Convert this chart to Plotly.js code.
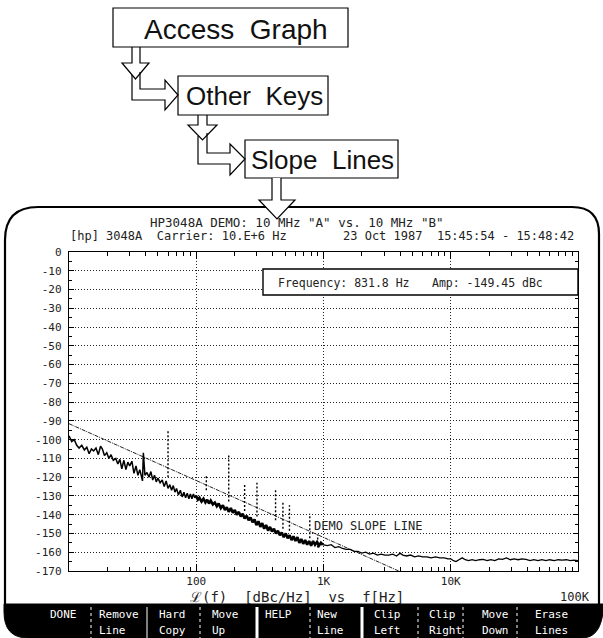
<!DOCTYPE html>
<html><head><meta charset="utf-8">
<script src="https://cdn.plot.ly/plotly-3.0.1.min.js"></script>
<style>html,body{margin:0;padding:0;background:#fff;}#chart{width:603px;height:638px;}</style>
</head><body><div id="chart"></div>
<script>
// ---------- data ----------
const lowBandHz = [10,10.5,11,11.5,12,12.6,13.2,13.8,14.4,15,15.6,16.3,17,17.7,18.3,19,19.8,20.6,21.4,22.3,23.3,24.2,25.1,26,27,28,29,30,31.2,32.4,33.6,34.8,36,37.2,37.8,38.4,39.5,41,42.5,44,45.5,47,48.5,50,52,54,56,58,60,62,64,66,68,70,72.5,75,77.5,80,82.5,85,87.5,90,92.5,95,97.5,100];
const lowBandDb = [-98,-101,-100,-103,-104.5,-103,-105.5,-104,-107.5,-105,-106,-104.5,-108,-103.5,-105,-108.5,-107,-110,-108,-111,-110,-113,-110.5,-115.5,-111,-116,-112,-114,-111.5,-118,-114,-119,-116,-121,-122,-107,-119,-117.5,-120,-117,-121.5,-119,-122.5,-120.5,-123,-121.5,-125,-122,-126,-124,-127,-124.5,-128,-126,-129.5,-127,-130.5,-128,-131,-128.5,-131.5,-129,-131.5,-129,-131,-130];
const midBandHz = [100,103,106,110,114,118,122,126,130,135,140,145,150,156,162,168,174,180,187,194,201,208,216,224,232,240,249,258,267,277,287,297,308,319,330,342,354,367,380,394,408,423,438,454,470,487,505,523,542,561,581,602,624,646,669,693,718,744,771,799,828,858,889,921,954,988];
const midBandDb = [-130,-132,-131,-133,-131.5,-133.5,-132,-134,-132.5,-134.5,-133.5,-135.5,-134,-136.5,-135,-137.5,-136,-138.5,-136.5,-139,-137.5,-140,-138.5,-141,-139.5,-142,-140.5,-143,-141.5,-144,-142.5,-145.5,-143.5,-146.5,-144.5,-147.5,-145.5,-148.5,-146.5,-149,-147.5,-150,-148.5,-151,-149.5,-152,-150,-152.5,-151,-153.5,-151.5,-154,-152,-155,-153,-155.5,-153.5,-156,-154,-156.5,-154,-156,-154.5,-156.5,-155,-156];
const highBandHz = [988,1070,1150,1230,1320,1410,1510,1620,1740,1860,2000,2150,2300,2470,2650,2830,3040,3260,3500,3750,4000,4200,4500,4830,5200,5600,6000,6500,7000,7600,8200,8900,9500,10000,10500,11000,11600,12300,13000,13800,14700,15700,16800,18000,19300,20700,22200,23800,25500,27400,29400,31500,33800,36300,39000,42000,45000,48500,52000,56000,60000,65000,70000,75000,81000,87000,93000,100000];
const highBandDb = [-156,-156.5,-156,-157.5,-157,-158,-158.5,-158.5,-159.5,-159.5,-160.5,-160,-161,-160.5,-161.5,-161,-161.5,-161.5,-161,-162,-160.5,-161.5,-162,-161.5,-162.5,-162,-162.5,-162.5,-163,-162.5,-163,-163,-163.5,-163.5,-164.5,-165,-164,-163,-164,-164.5,-164,-164.5,-164,-163.8,-164.5,-164,-164.5,-163.5,-163.8,-163,-164,-163.5,-164,-163.5,-163.8,-164.5,-164,-164.5,-164,-164.5,-164,-164.5,-164,-164.2,-164,-164.5,-164.2,-164.5];
const slopeHz = [10, 3900];
const slopeDb = [-91.5, -170];
const spurHz = [60,120,180,240,300,420,480,540,780,900];
const spurTopDb = [-95,-119.5,-107.5,-123.5,-123,-126,-133.5,-135,-139.5,-150.5];
const spurBaseDb = [-120,-127,-133,-138,-141,-143,-147.5,-148.5,-152.5,-157.5];
const xDecades = [10,100,1000,10000,100000];
const xDecadeLabels = ['', '100', '1K', '10K', ''];
const xMinorTicks = [20,30,40,50,60,70,80,90,200,300,400,500,600,700,800,900,2000,3000,4000,5000,6000,7000,8000,9000,20000,30000,40000,50000,60000,70000,80000,90000];
const yTicks = [0,-10,-20,-30,-40,-50,-60,-70,-80,-90,-100,-110,-120,-130,-140,-150,-160,-170];
const yTickLabels = ['0','-10','-20','-30','-40','-50','-60','-70','-80','-90','-100','-110','-120','-130','-140','-150','-160','-170'];
const xEndLabels = ['10', '100K'];
const xAxisTitle = 'ℒ(f)  [dBc/Hz]  vs  f[Hz]';
const titleLine1 = 'HP3048A DEMO: 10 MHz "A" vs. 10 MHz "B"';
const titleLeft = '[hp] 3048A  Carrier: 10.E+6 Hz';
const titleRight = '23 Oct 1987  15:45:54 - 15:48:42';
const markerFreq = 'Frequency: 831.8 Hz';
const markerAmp = 'Amp: -149.45 dBc';
const slopeLabel = 'DEMO SLOPE LINE';
const menuSteps = ['Access\u00A0\u00A0Graph', 'Other\u00A0\u00A0Keys', 'Slope\u00A0\u00A0Lines'];
const softkeyTop = ['DONE','Remove','Hard','Move','HELP','New','Clip','Clip','Move','Erase'];
const softkeyBottom = ['','Line','Copy','Up','','Line','Left','Right','Down','Lines'];

// ---------- geometry helpers (pixel -> paper) ----------
const L = 69, R = 578, T = 252, B = 571;
const px = x => (x - L) / (R - L);
const py = y => (B - y) / (B - T);
function P(cmds){
  return cmds.map(c => {
    if (c[0] === 'Z') return 'Z';
    let s = c[0];
    const n = c.slice(1);
    for (let i = 0; i < n.length; i += 2) s += (i ? ' ' : '') + px(n[i]).toFixed(5) + ',' + py(n[i+1]).toFixed(5);
    return s;
  }).join(' ');
}
function pathShape(cmds, opt){
  return Object.assign({type:'path', xref:'paper', yref:'paper', path:P(cmds), line:{color:'#000', width:1.2}, layer:'above'}, opt||{});
}
function rectShape(x0,y0,x1,y1,opt){
  return Object.assign({type:'rect', xref:'paper', yref:'paper', x0:px(x0), x1:px(x1), y0:py(y1), y1:py(y0), line:{color:'#000', width:1.2}, layer:'above'}, opt||{});
}
const MONO = 'DejaVu Sans Mono, monospace';
function txt(text, x, y, opt){
  return Object.assign({text:text, xref:'paper', yref:'paper', x:px(x), y:py(y), showarrow:false, xanchor:'center', yanchor:'middle', font:{family:MONO, size:12, color:'#222'}}, opt||{});
}

// ---------- traces ----------
const spurX = [], spurY = [];
spurHz.forEach((f,i) => { spurX.push(f, f, null); spurY.push(spurBaseDb[i], spurTopDb[i], null); });

const traces = [
  {x: slopeHz, y: slopeDb, mode:'lines', line:{color:'#222', width:1, dash:'4px,1px,1px,1px'}, hoverinfo:'skip'},
  {x: spurX, y: spurY, mode:'lines', line:{color:'#000', width:1.4, dash:'2px,2px'}, connectgaps:false, hoverinfo:'skip'},
  {x: lowBandHz, y: lowBandDb, mode:'lines', line:{color:'#000', width:1.5}, hoverinfo:'skip'},
  {x: midBandHz, y: midBandDb, mode:'lines', line:{color:'#000', width:2.6}, hoverinfo:'skip'},
  {x: highBandHz, y: highBandDb, mode:'lines', line:{color:'#000', width:1.3}, hoverinfo:'skip'}
];

// ---------- shapes ----------
const shapes = [];
// flowchart boxes
shapes.push(rectShape(113,8,348,47));
shapes.push(rectShape(178,76,328,115));
shapes.push(rectShape(245,140,398,178));
// arrows
shapes.push(pathShape([['M',132,47],['L',132,63],['L',122,63],['L',135.5,79],['L',149,63],['L',140,63],['L',140,47]]));
shapes.push(pathShape([['M',132,75],['L',132,100],['L',165,100],['L',165,110],['L',178,95],['L',165,80],['L',165,89],['L',140,89],['L',140,72]]));
shapes.push(pathShape([['M',198,115],['L',198,125],['L',188,125],['L',202.5,140],['L',217,125],['L',207,125],['L',207,115]]));
shapes.push(pathShape([['M',198,136],['L',198,164],['L',230,164],['L',230,175],['L',245,159],['L',230,144],['L',230,153],['L',207,153],['L',207,133]]));
// screen frame
shapes.push(pathShape([['M',5,604],['L',5,240],['Q',5,207,38,207],['L',572,207],['Q',599,207,599,234],['L',599,604]], {line:{color:'#000', width:2.2}}));
// arrow into the screen
shapes.push(pathShape([['M',272,178],['L',272,200],['L',259,200],['L',277,219],['L',295,200],['L',281,200],['L',281,178]], {fillcolor:'#fff'}));
// softkey bar
shapes.push(pathShape([['M',4,604],['L',603,604],['L',603,612],['Q',600,638,582,638],['L',28,638],['Q',4,638,4,612],['Z']], {fillcolor:'#000', line:{color:'#000', width:1}}));
[[91,1,'dot'],[147,1,'solid'],[200,1,'dot'],[257,3,'solid'],[310,1,'dot'],[362,3,'solid'],[418,1,'dot'],[463,1,'dot'],[517,1,'dot']].forEach(s => {
  shapes.push({type:'line', xref:'paper', yref:'paper', x0:px(s[0]), x1:px(s[0]), y0:py(607), y1:py(638), line:{color:'#fff', width:s[1], dash:s[2]}, layer:'above'});
});
// marker readout box
shapes.push(rectShape(263,269,578,295, {fillcolor:'#fff', line:{color:'#000', width:1.4}}));

// ---------- annotations ----------
const ann = [];
const FLOW = {family:'Liberation Sans, Arial, sans-serif', size:28, color:'#111'};
const FLOW2 = {family:'Liberation Sans, Arial, sans-serif', size:26, color:'#111'};
ann.push(txt(menuSteps[0], 236, 29, {font:FLOW}));
ann.push(txt(menuSteps[1], 254, 96, {font:FLOW2}));
ann.push(txt(menuSteps[2], 322, 160, {font:FLOW2}));
ann.push(txt(titleLine1, 297, 222, {font:{family:MONO, size:12.5, color:'#222'}}));
ann.push(txt(titleLeft, 68, 236, {xanchor:'left'}));
ann.push(txt(titleRight, 576, 236, {xanchor:'right'}));
ann.push(txt(markerFreq, 276, 283, {xanchor:'left', font:{family:MONO, size:11.5, color:'#222'}}));
ann.push(txt(markerAmp, 430, 283, {xanchor:'left', font:{family:MONO, size:11.5, color:'#222'}}));
ann.push(Object.assign(txt(slopeLabel, 312, 0, {xanchor:'left'}), {yref:'y', y:-146}));
ann.push(Object.assign(txt(xEndLabels[0], 0, 597), {xref:'x', x:Math.log10(xDecades[0]) - 0.045}));
ann.push(Object.assign(txt(xEndLabels[1], 0, 597), {xref:'x', x:Math.log10(xDecades[4]) - 0.02}));
ann.push(txt(xAxisTitle, 297, 597, {font:{family:MONO, size:14, color:'#222'}}));
const keyX = [48,97,157,210,263,315,372,427,480,533];
const KEYF = {family:MONO, size:11, color:'#fff'};
softkeyTop.forEach((t,i) => ann.push(txt(t, keyX[i], 614, {xanchor:'left', font:KEYF})));
softkeyBottom.forEach((t,i) => { if (t) ann.push(txt(t, keyX[i], 630, {xanchor:'left', font:KEYF})); });

const layout = {
  width:603, height:638,
  margin:{l:L, r:603-R, t:T, b:638-B, pad:0},
  paper_bgcolor:'#fff', plot_bgcolor:'#fff',
  showlegend:false,
  xaxis:{type:'log', range:[1,5], tickmode:'array', tickvals:xDecades, ticktext:xDecadeLabels,
    showgrid:true, gridcolor:'#222', gridwidth:1, griddash:'1px,2px',
    ticks:'inside', ticklen:7, tickcolor:'#000', showline:true, linecolor:'#000', linewidth:1.2, mirror:'allticks',
    zeroline:false, tickfont:{family:MONO, size:11, color:'#222'},
    minor:{tickmode:'array', tickvals:xMinorTicks, ticks:'inside', ticklen:4, tickcolor:'#000', showgrid:false},
    fixedrange:true},
  yaxis:{range:[-170,0], tickmode:'array', tickvals:yTicks, ticktext:yTickLabels,
    showgrid:true, gridcolor:'#222', gridwidth:1, griddash:'1px,2px',
    ticks:'inside', ticklen:5, tickcolor:'#000', showline:true, linecolor:'#000', linewidth:1.2, mirror:'allticks',
    zeroline:false, tickfont:{family:MONO, size:11, color:'#222'}, ticklabelstandoff:4,
    minor:{tickmode:'linear', tick0:-5, dtick:10, ticks:'inside', ticklen:3, tickcolor:'#000', showgrid:false},
    fixedrange:true},
  shapes:shapes,
  annotations:ann
};
Plotly.newPlot('chart', traces, layout, {displayModeBar:false, staticPlot:true});
</script></body></html>
